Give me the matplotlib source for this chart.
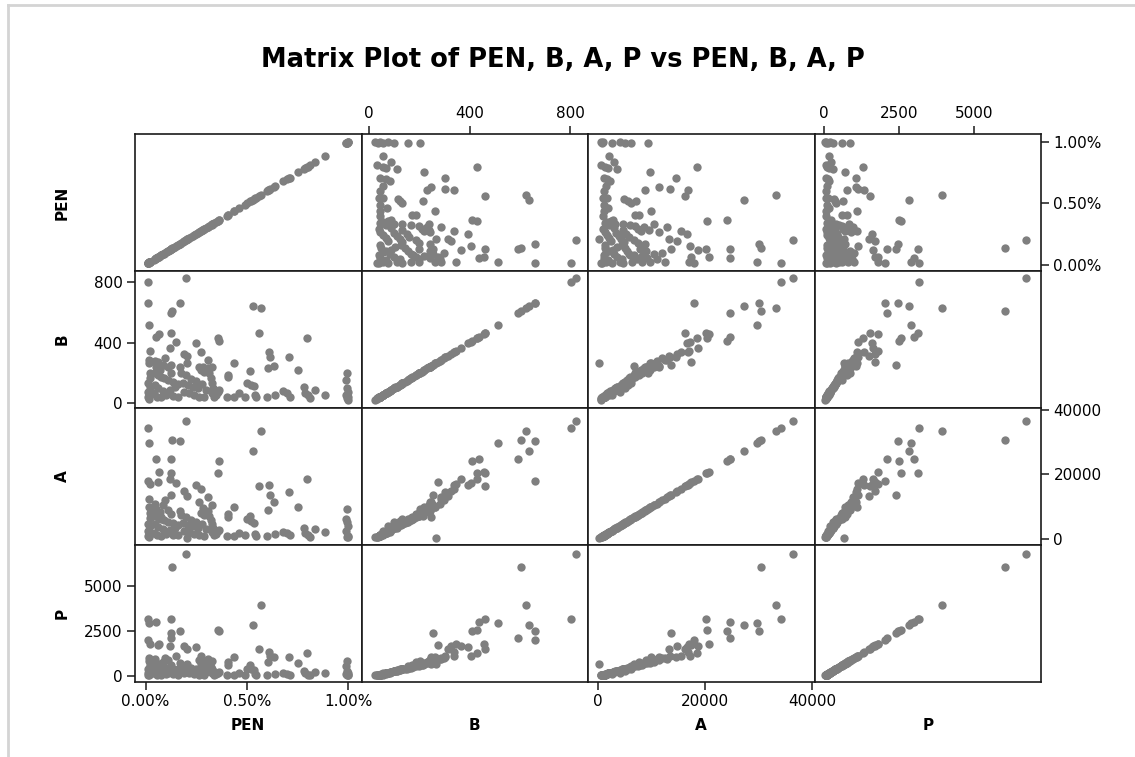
import matplotlib
matplotlib.use("Agg")
import matplotlib.pyplot as plt
from matplotlib.lines import Line2D

names = ["PEN", "B", "A", "P"]

# one entry per observation: PEN (%), B, A, P
pen = [0.198, 0.013, 0.132, 0.569, 0.528, 0.168, 0.018, 0.013, 0.127, 0.127,
       0.050, 0.356, 0.364, 0.124, 0.065, 0.797, 0.560, 0.250, 0.190, 0.206,
       0.610, 0.614, 0.634, 0.708, 0.753, 0.021, 0.059, 0.123, 0.152, 0.436,
       0.206, 0.405, 0.405, 0.275, 0.307,
       0.018, 0.018, 0.021, 0.021, 0.013, 0.021, 0.013, 0.021, 0.010, 0.015,
       0.046, 0.054, 0.070, 0.085, 0.095, 0.075, 0.049, 0.060, 0.075, 0.090,
       0.045, 0.062, 0.085, 0.055, 0.078, 0.102, 0.040,
       0.110, 0.127, 0.110, 0.135, 0.160, 0.110, 0.135, 0.160, 0.120, 0.145, 0.168,
       0.185, 0.210, 0.235, 0.260, 0.190, 0.215, 0.240, 0.265, 0.290,
       0.176, 0.200, 0.225, 0.250,
       0.263, 0.283, 0.310, 0.330, 0.275, 0.290, 0.315, 0.323, 0.330, 0.335,
       0.327, 0.355, 0.345, 0.340, 0.300, 0.280,
       0.364, 0.400, 0.436, 0.490, 0.500, 0.515, 0.520, 0.536, 0.540, 0.545, 0.460,
       0.598, 0.606, 0.640, 0.680, 0.700, 0.710, 0.780, 0.785, 0.800, 0.810,
       0.838, 0.884,
       0.995, 0.990, 0.995, 1.000, 0.990, 1.000, 0.995, 1.000]

b = [822, 801, 604, 624, 637, 659, 512, 659, 593, 462,
     437, 428, 410, 253, 457, 428, 460, 395, 325, 312,
     336, 303, 246, 303, 220, 347, 275, 367, 406, 264,
     265, 187, 171, 336, 286,
     286, 264, 198, 165, 132, 110, 77, 55, 40, 30,
     281, 242, 220, 253, 297, 246, 198, 187, 176, 165,
     121, 99, 84, 44, 40, 55, 66,
     242, 198, 154, 143, 127, 66, 48, 44, 88, 105, 242,
     132, 121, 110, 99, 77, 66, 55, 44, 40,
     198, 187, 160, 150,
     242, 237, 231, 237, 220, 209, 198, 165, 132, 99,
     66, 77, 55, 44, 88, 130,
     88, 44, 44, 44, 132, 213, 121, 114, 55, 40, 70,
     44, 231, 55, 84, 66, 44, 110, 66, 55, 33,
     88, 55,
     202, 154, 99, 77, 55, 44, 35, 25]

a = [36400, 34200, 30500, 33400, 27300, 30200, 29800, 18000, 24800, 20300,
     24800, 20400, 24200, 13700, 20800, 18500, 16300, 16600, 14800, 13300,
     16800, 13500, 11400, 14700, 9850, 17100, 17500, 18700, 17300, 10000,
     300, 7770, 6900, 15500, 13000,
     12500, 9800, 8200, 6500, 4800, 4200, 2600, 1600, 900, 700,
     11000, 9300, 8300, 10500, 12000, 6800, 7300, 6900, 6100, 5800,
     4600, 3700, 3100, 1200, 1100, 1500, 2000,
     9000, 7900, 5400, 5100, 4500, 2200, 1400, 1300, 2900, 3600, 8800,
     4900, 4300, 4000, 3500, 2500, 2100, 1700, 1300, 1000,
     7600, 6700, 5900, 5300,
     11500, 9500, 8700, 10500, 8100, 7500, 7000, 6000, 4700, 3300,
     2200, 2500, 1700, 1300, 3000, 4800,
     2800, 1000, 1100, 1200, 6200, 7200, 5700, 5000, 1700, 1000, 2000,
     1100, 8900, 1500, 2300, 1800, 1200, 3600, 1900, 1300, 600,
     3100, 2070,
     9330, 6220, 5190, 4150, 2590, 1030, 800, 600]

p = [6740, 3170, 6050, 3950, 2850, 2480, 2920, 2030, 2110, 3150,
     3010, 2580, 2500, 2410, 1790, 1290, 1530, 1600, 1700, 1520,
     1340, 1150, 1058, 1060, 720, 1800, 1720, 1650, 1150, 1095,
     680, 780, 600, 1100, 960,
     1000, 820, 600, 520, 390, 350, 210, 150, 90, 75,
     930, 760, 660, 800, 1020, 700, 620, 580, 500, 470,
     350, 280, 220, 100, 85, 130, 180,
     880, 640, 450, 410, 380, 170, 110, 95, 250, 300, 720,
     420, 340, 310, 290, 200, 160, 120, 100, 85,
     560, 600, 480, 430,
     900, 820, 760, 850, 700, 640, 610, 500, 400, 280,
     190, 210, 140, 90, 250, 380,
     240, 80, 70, 90, 420, 650, 380, 350, 140, 70, 180,
     60, 780, 110, 180, 130, 80, 300, 170, 100, 60,
     230, 160,
     870, 593, 315, 200, 150, 80, 60, 50]

lims = [(-0.052, 1.065), (-30, 870), (-1800, 40500), (-310, 7240)]
ticks = [[0, 0.5, 1.0], [0, 400, 800], [0, 20000, 40000], [0, 2500, 5000]]
tick_text = [["0.00%", "0.50%", "1.00%"], ["0", "400", "800"],
             ["0", "20000", "40000"], ["0", "2500", "5000"]]

data = [pen, b, a, p]

W, H = 1135, 757
fig = plt.figure(figsize=(W / 100, H / 100), dpi=100)
axes = fig.subplots(4, 4, gridspec_kw=dict(wspace=0, hspace=0))
fig.subplots_adjust(left=135 / W, right=1041 / W, top=1 - 134 / H, bottom=1 - 682 / H)

for i in range(4):
    for j in range(4):
        ax = axes[i][j]
        ax.scatter(data[j], data[i], s=36, color="#7f7f7f", linewidths=0, zorder=3)
        ax.set_xlim(lims[j])
        ax.set_ylim(lims[i])
        ax.set_xticks([])
        ax.set_yticks([])
        for s in ax.spines.values():
            s.set_linewidth(1.2)
            s.set_color("#1a1a1a")
        ax.tick_params(length=6, width=1.1, labelsize=11, pad=3, color="#1a1a1a")
        # alternating tick sides, like minitab
        if i == 0 and j % 2 == 1:
            ax.set_xticks(ticks[j], tick_text[j])
            ax.xaxis.set_ticks_position("top")
        if i == 3 and j % 2 == 0:
            ax.set_xticks(ticks[j], tick_text[j])
            ax.xaxis.set_ticks_position("bottom")
        if j == 3 and i % 2 == 0:
            ax.set_yticks(ticks[i], tick_text[i])
            ax.yaxis.set_ticks_position("right")
        if j == 0 and i % 2 == 1:
            ax.set_yticks(ticks[i], tick_text[i])
            ax.yaxis.set_ticks_position("left")

fig.suptitle("Matrix Plot of PEN, B, A, P vs PEN, B, A, P", x=563 / W, y=1 - 60 / H,
             va="center", fontsize=18.5, fontweight="bold")

for k, name in enumerate(names):
    cy = 134 + 137 * (k + 0.5)
    fig.text(62 / W, 1 - cy / H, name, rotation=90, ha="center", va="center",
             fontsize=11, fontweight="bold")
    cx = 135 + 226.5 * (k + 0.5)
    fig.text(cx / W, 1 - 726 / H, name, ha="center", va="center",
             fontsize=11, fontweight="bold")

# light frame on the top and left edges
fig.add_artist(Line2D([8 / W, 1], [1 - 5 / H, 1 - 5 / H], color="#d4d4d4", lw=2))
fig.add_artist(Line2D([8 / W, 8 / W], [0, 1 - 5 / H], color="#d4d4d4", lw=2))

fig.savefig("out.png", dpi=100)
